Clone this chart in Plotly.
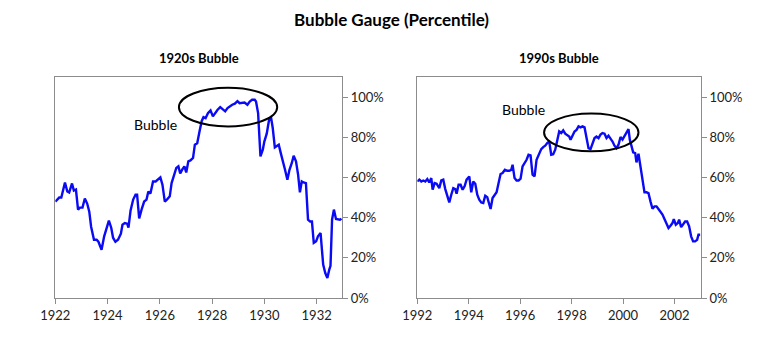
import plotly.graph_objects as go

# ---- data: 1920s bubble (decimal year, percentile) ----
dates_1920s = [1922.00, 1922.08, 1922.15, 1922.23, 1922.31, 1922.37, 1922.46, 1922.53, 1922.64, 1922.71,
               1922.79, 1922.87, 1922.94, 1923.04, 1923.13, 1923.22, 1923.30, 1923.37, 1923.48, 1923.58,
               1923.65, 1923.77, 1923.87, 1923.96, 1924.05, 1924.14, 1924.21, 1924.30, 1924.40, 1924.51,
               1924.57, 1924.66, 1924.75, 1924.80, 1924.88, 1924.98, 1925.07, 1925.13, 1925.21, 1925.30,
               1925.40, 1925.49, 1925.56, 1925.64, 1925.74, 1925.84, 1925.94, 1926.02, 1926.10, 1926.19,
               1926.27, 1926.38, 1926.45, 1926.53, 1926.63, 1926.71, 1926.78, 1926.86, 1926.94, 1927.01,
               1927.09, 1927.17, 1927.27, 1927.34, 1927.43, 1927.52, 1927.60, 1927.67, 1927.75, 1927.84,
               1927.94, 1928.03, 1928.12, 1928.21, 1928.31, 1928.41, 1928.50, 1928.59, 1928.68, 1928.77,
               1928.87, 1928.97, 1929.05, 1929.15, 1929.24, 1929.35, 1929.44, 1929.53, 1929.63, 1929.68,
               1929.76, 1929.85, 1929.94, 1930.00, 1930.09, 1930.19, 1930.26, 1930.32, 1930.40, 1930.49,
               1930.55, 1930.63, 1930.70, 1930.79, 1930.88, 1930.96, 1931.05, 1931.12, 1931.21, 1931.29,
               1931.36, 1931.43, 1931.50, 1931.59, 1931.67, 1931.75, 1931.82, 1931.89, 1931.98, 1932.05,
               1932.15, 1932.20, 1932.25, 1932.33, 1932.41, 1932.48, 1932.53, 1932.59, 1932.66, 1932.74,
               1932.81, 1932.89, 1932.95]
values_1920s = [48, 49, 50, 50, 54, 57.5, 53, 52.5, 57, 53.5,
                54, 44, 45, 45, 49.5, 47, 43, 35.5, 29, 29,
                28, 24, 30.7, 35, 38.5, 35, 30, 28, 29, 32,
                36.5, 37.3, 37, 35, 43.6, 49, 51.4, 51.4, 39.6, 44,
                48, 49, 53, 52, 58, 58, 59, 60, 56.4, 48,
                49, 50.6, 57.2, 60.5, 64.7, 65.5, 62, 64, 65.5, 62.5,
                68, 68.5, 69.7, 76.3, 77, 83, 88, 90, 89.5, 92,
                93.4, 90.4, 92.4, 93.7, 95, 93.7, 92.9, 94.5, 95.4, 96.2,
                96.7, 98, 97, 97.3, 97.3, 96.2, 97.8, 98.7, 98.7, 97.8,
                92, 70.5, 73.8, 78, 81.8, 89.5, 89.5, 84.6, 75, 75.8,
                76.3, 72, 68.8, 63.8, 58.9, 63.8, 67.2, 70.8, 68, 61.4,
                52.6, 58, 57.5, 57.2, 39, 38.1, 38.1, 27.4, 28.2, 30.7,
                32.3, 25.7, 16.6, 12.4, 10, 14, 16, 39, 44, 39.3,
                39.3, 39, 39.5]

# ---- data: 1990s bubble (decimal year, percentile) ----
dates_1990s = [1992.000, 1992.078, 1992.155, 1992.233, 1992.311, 1992.389, 1992.466, 1992.544, 1992.596, 1992.674,
               1992.751, 1992.855, 1992.933, 1993.010, 1993.088, 1993.166, 1993.244, 1993.321, 1993.399, 1993.477,
               1993.528, 1993.606, 1993.684, 1993.762, 1993.839, 1993.917, 1994.021, 1994.098, 1994.176, 1994.254,
               1994.332, 1994.409, 1994.487, 1994.565, 1994.642, 1994.720, 1994.785, 1994.850, 1994.927, 1995.005,
               1995.083, 1995.161, 1995.238, 1995.316, 1995.407, 1995.497, 1995.575, 1995.653, 1995.705, 1995.782,
               1995.860, 1995.938, 1996.016, 1996.093, 1996.171, 1996.249, 1996.326, 1996.404, 1996.482, 1996.560,
               1996.637, 1996.741, 1996.819, 1996.896, 1996.974, 1997.052, 1997.130, 1997.207, 1997.285, 1997.363,
               1997.440, 1997.518, 1997.596, 1997.674, 1997.751, 1997.829, 1997.907, 1997.959, 1998.036, 1998.114,
               1998.192, 1998.269, 1998.347, 1998.425, 1998.503, 1998.580, 1998.658, 1998.736, 1998.813, 1998.891,
               1998.969, 1999.047, 1999.124, 1999.202, 1999.280, 1999.358, 1999.435, 1999.513, 1999.591, 1999.668,
               1999.746, 1999.824, 1999.902, 1999.979, 2000.057, 2000.135, 2000.212, 2000.264, 2000.316, 2000.394,
               2000.472, 2000.523, 2000.601, 2000.679, 2000.756, 2000.834, 2000.912, 2000.990, 2001.067, 2001.145,
               2001.223, 2001.301, 2001.378, 2001.456, 2001.534, 2001.611, 2001.689, 2001.767, 2001.845, 2001.922,
               2001.974, 2002.052, 2002.130, 2002.181, 2002.259, 2002.337, 2002.415, 2002.492, 2002.570, 2002.648,
               2002.725, 2002.803, 2002.881, 2002.933, 2003.000]
values_1990s = [58, 58.9, 58, 58.5, 58, 59.2, 57.5, 59.7, 53.9, 57.2,
                56.9, 54.7, 58.5, 58.9, 54.2, 50.6, 47.6, 51.4, 54.7, 54.2,
                51.9, 56.4, 56.4, 53.9, 55.6, 58.9, 60.5, 52.6, 58, 56.9,
                51.4, 48.9, 47.6, 47.3, 50.9, 50.2, 47.3, 44.3, 49.8, 51.1,
                52.6, 57.2, 61.7, 62.2, 63.8, 63.3, 63.3, 63.8, 66.3, 59.7,
                58.5, 58.5, 59.4, 65.5, 67.2, 68.8, 71.3, 71, 61.4, 60.5,
                68.8, 72.1, 74.1, 75.1, 75.8, 77.1, 77.9, 71.3, 71.6, 73.8,
                77.9, 82.9, 82.1, 83.4, 81.8, 81.3, 80.4, 78.8, 81.3, 82.9,
                83.7, 85.4, 84.9, 85.4, 84.9, 79.6, 74.6, 74.1, 77.1, 79.6,
                80.4, 79.6, 81.3, 82.1, 81.8, 79.6, 80.8, 79.6, 77.9, 75.8,
                74.6, 76.3, 80.1, 78.8, 80.8, 82.1, 84.1, 78.8, 76.3, 72.5,
                72.1, 67.5, 71.8, 65.5, 59.7, 52.6, 52.6, 52.2, 48.1, 44.4,
                45.6, 45.6, 44.3, 43.1, 41.5, 39.3, 37.3, 34.8, 36, 37.3,
                39.3, 36.5, 37.3, 39, 35.3, 36.5, 38.1, 38.1, 35.7, 30.7,
                28.2, 28.2, 29, 31.5, 31.5]

y_ticks = [0, 20, 40, 60, 80, 100]
y_tick_labels = ["0%", "20%", "40%", "60%", "80%", "100%"]
x_ticks_1920s = [1922, 1924, 1926, 1928, 1930, 1932]
x_ticks_1990s = [1992, 1994, 1996, 1998, 2000, 2002]

FONT = "Lato, Carlito, Calibri, sans-serif"
LINE_BLUE = "#0A0AF5"
FRAME = "#8c8c8c"

fig = go.Figure()
fig.add_trace(go.Scatter(x=dates_1920s, y=values_1920s, mode="lines",
                         line=dict(color=LINE_BLUE, width=2.4), xaxis="x", yaxis="y",
                         showlegend=False, hoverinfo="skip"))
fig.add_trace(go.Scatter(x=dates_1990s, y=values_1990s, mode="lines",
                         line=dict(color=LINE_BLUE, width=2.4), xaxis="x2", yaxis="y2",
                         showlegend=False, hoverinfo="skip"))

W, H = 782, 341
dom1 = [55.3 / W, 342 / W]
dom2 = [417.3 / W, 700.7 / W]
ydom = [1 - 298 / H, 1 - 77 / H]

axis_common = dict(showline=True, linecolor=FRAME, linewidth=1.3, mirror=True,
                   showgrid=False, zeroline=False, ticks="outside", ticklen=5,
                   tickcolor=FRAME, automargin=False,
                   tickfont=dict(family=FONT, size=13, color="#222"))

fig.update_layout(
    width=W, height=H,
    margin=dict(l=0, r=0, t=0, b=0, pad=0),
    paper_bgcolor="white", plot_bgcolor="white",
    font=dict(family=FONT),
    showlegend=False,
    xaxis=dict(domain=dom1, range=[1922, 1932.97], tickvals=x_ticks_1920s,
               anchor="y", **axis_common),
    yaxis=dict(domain=ydom, range=[0, 110], tickvals=y_ticks, ticktext=y_tick_labels,
               side="right", anchor="x", **axis_common),
    xaxis2=dict(domain=dom2, range=[1992, 2003.02], tickvals=x_ticks_1990s,
                anchor="y2", **axis_common),
    yaxis2=dict(domain=ydom, range=[0, 110], tickvals=y_ticks, ticktext=y_tick_labels,
                side="right", anchor="x2", **axis_common),
    shapes=[
        dict(type="circle", xref="x", yref="y", x0=1926.73, x1=1930.49, y0=85.4, y1=104.6,
             line=dict(color="black", width=2)),
        dict(type="circle", xref="x2", yref="y2", x0=1996.93, x1=2000.60, y0=73.0, y1=91.8,
             line=dict(color="black", width=2)),
    ],
    annotations=[
        dict(text="<b>Bubble Gauge (Percentile)</b>", x=391 / W, y=1 - 20 / H, xref="paper", yref="paper",
             showarrow=False, font=dict(family=FONT, size=17, color="black"), xanchor="center", yanchor="middle"),
        dict(text="<b>1920s Bubble</b>", x=199 / W, y=1 - 58 / H, xref="paper", yref="paper",
             showarrow=False, font=dict(family=FONT, size=13, color="black"), xanchor="center", yanchor="middle"),
        dict(text="<b>1990s Bubble</b>", x=559 / W, y=1 - 58 / H, xref="paper", yref="paper",
             showarrow=False, font=dict(family=FONT, size=13, color="black"), xanchor="center", yanchor="middle"),
        dict(text="Bubble", x=1925.84, y=86.3, xref="x", yref="y", showarrow=False,
             font=dict(family=FONT, size=14, color="black")),
        dict(text="Bubble", x=1996.14, y=93.8, xref="x2", yref="y2", showarrow=False,
             font=dict(family=FONT, size=14, color="black")),
    ],
)

fig.write_html("out.html")
